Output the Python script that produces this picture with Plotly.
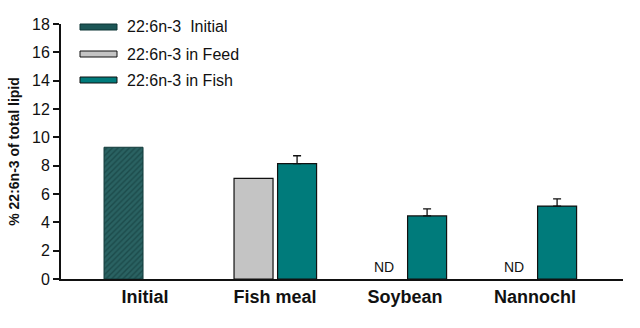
import plotly.graph_objects as go

# Groups on the x axis
categories = ["Initial", "Fish meal", "Soybean", "Nannochl"]

# 22:6n-3 (% of total lipid)
initial_values = [9.3, None, None, None]
feed_values = [None, 7.1, None, None]          # not detected in soybean / Nannochloropsis feeds
fish_values = [None, 8.15, 4.45, 5.15]
fish_errors = [0, 0.55, 0.5, 0.5]

nd_categories = ["Soybean", "Nannochl"]
nd_label = "ND"

series_names = ["22:6n-3  Initial", "22:6n-3 in Feed", "22:6n-3 in Fish"]
y_ticks = [0, 2, 4, 6, 8, 10, 12, 14, 16, 18]

TEAL = "#007b7b"
DARK_TEAL = "#1c5656"
GREY = "#c4c4c4"
FONT = "Liberation Sans, Arial, sans-serif"

BAR_W = 0.3
LEFT_OFF = -0.315
RIGHT_OFF = 0.02

fig = go.Figure()

fig.add_trace(go.Bar(
    x=categories, y=initial_values, name=series_names[0],
    width=BAR_W, offset=LEFT_OFF,
    marker=dict(color=DARK_TEAL, line=dict(color="#123a3a", width=1),
                pattern=dict(shape="/", fgcolor="#0d3434", bgcolor="#2a6262",
                             size=4, solidity=0.35)),
    showlegend=False,
))

fig.add_trace(go.Bar(
    x=categories, y=feed_values, name=series_names[1],
    width=BAR_W, offset=LEFT_OFF,
    marker=dict(color=GREY, line=dict(color="#111", width=1.2)),
    showlegend=False,
))

fig.add_trace(go.Bar(
    x=categories, y=fish_values, name=series_names[2],
    width=BAR_W, offset=RIGHT_OFF,
    marker=dict(color=TEAL, line=dict(color="#111", width=1.2)),
    error_y=dict(type="data", symmetric=False, array=fish_errors,
                 arrayminus=[0] * len(fish_errors),
                 color="#111", thickness=1.3, width=4),
    showlegend=False,
))

# "ND" markers where the feed value was not detected
for cat in nd_categories:
    fig.add_annotation(
        x=cat, y=0, xref="x", yref="y", text=nd_label, showarrow=False,
        xshift=-21, yshift=12, font=dict(family=FONT, size=14, color="#111"),
    )

# Legend drawn as wide swatches with labels
legend_rows = [
    (27, dict(fillcolor=DARK_TEAL, line=dict(color="#0d3434", width=1))),
    (54, dict(fillcolor=GREY, line=dict(color="#111", width=1))),
    (80, dict(fillcolor=TEAL, line=dict(color="#111", width=1))),
]
for (ypx, style), label in zip(legend_rows, series_names):
    fig.add_shape(
        type="rect", xref="paper", yref="paper",
        x0=(80 - 61) / 562, x1=(117 - 61) / 562,
        y0=(279 - (ypx + 3)) / 255, y1=(279 - (ypx - 3)) / 255,
        **style,
    )
    fig.add_annotation(
        xref="paper", yref="paper", x=(125 - 61) / 562, y=(279 - ypx) / 255,
        xanchor="left", yanchor="middle", text=label, showarrow=False,
        font=dict(family=FONT, size=16, color="#111"),
    )

fig.update_layout(
    width=640, height=328,
    margin=dict(l=61, r=17, t=24, b=49),
    paper_bgcolor="white", plot_bgcolor="white",
    barmode="overlay",
    font=dict(family=FONT, color="#111"),
    xaxis=dict(
        type="category", categoryorder="array", categoryarray=categories,
        range=[-0.646, 3.677],
        showline=True, linecolor="#111", linewidth=2,
        ticks="", showgrid=False,
        tickfont=dict(family=FONT, size=18, color="#111", weight="bold"),
    ),
    yaxis=dict(
        range=[0, 18], tickvals=y_ticks,
        showline=True, linecolor="#111", linewidth=2,
        ticks="outside", ticklen=6, tickwidth=1.5, tickcolor="#111",
        showgrid=False, zeroline=False,
        tickfont=dict(family=FONT, size=16, color="#111"),
        title=dict(text="% 22:6n-3 of total lipid", standoff=9,
                   font=dict(family=FONT, size=14, color="#111", weight="bold")),
    ),
)

fig.write_html("out.html")
